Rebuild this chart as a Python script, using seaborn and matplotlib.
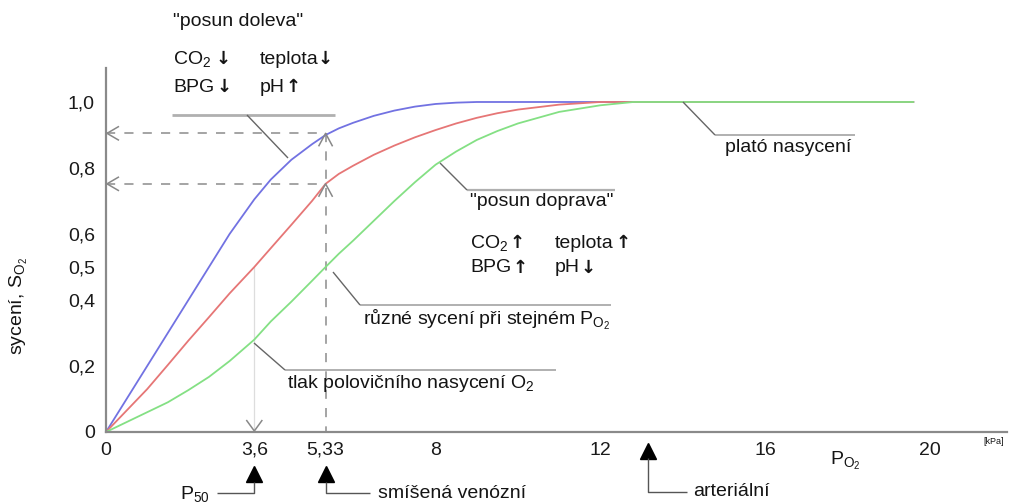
import numpy as np
import pandas as pd
import matplotlib
matplotlib.use("Agg")
import matplotlib.pyplot as plt
import seaborn as sns
from matplotlib.lines import Line2D
from matplotlib.transforms import Affine2D

# ---------------- data ----------------
p_kpa = [0, 0.5, 1, 1.5, 2, 2.5, 3, 3.6, 4, 4.5, 5, 5.33, 5.65, 6, 6.5, 7, 7.5,
         8, 8.5, 9, 9.5, 10, 11, 12, 12.8, 13, 14, 16, 18, 19.6]
sat_left = [0, 0.10, 0.20, 0.30, 0.40, 0.50, 0.60, 0.705, 0.765, 0.825, 0.872, 0.90,
            0.92, 0.937, 0.958, 0.974, 0.986, 0.994, 0.998, 1.0, 1.0, 1.0, 1.0, 1.0,
            1.0, 1.0, 1.0, 1.0, 1.0, 1.0]
sat_normal = [0, 0.065, 0.13, 0.203, 0.277, 0.348, 0.42, 0.50, 0.557, 0.628, 0.70, 0.752,
              0.782, 0.807, 0.84, 0.868, 0.893, 0.915, 0.935, 0.952, 0.966, 0.977, 0.992,
              1.0, 1.0, 1.0, 1.0, 1.0, 1.0, 1.0]
sat_right = [0, 0.03, 0.06, 0.09, 0.127, 0.167, 0.215, 0.28, 0.335, 0.395, 0.458, 0.50,
             0.54, 0.58, 0.64, 0.70, 0.757, 0.81, 0.85, 0.885, 0.912, 0.935, 0.97, 0.99,
             1.0, 1.0, 1.0, 1.0, 1.0, 1.0]
curve_names = ["doleva", "normal", "doprava"]
curve_colors = ["#7272e2", "#e67676", "#84e084"]

y_ticks = [0, 0.2, 0.4, 0.5, 0.6, 0.8, 1.0]
y_tick_labels = ["0", "0,2", "0,4", "0,5", "0,6", "0,8", "1,0"]
x_ticks = [0, 3.6, 5.33, 8, 12, 16, 20]
x_tick_labels = ["0", "3,6", "5,33", "8", "12", "16", "20"]
x_inner_ticks = [8, 12, 16, 20]

p50 = 3.6
p_venous = 5.33
p_arterial = 13.15
s_left_venous = 0.905
s_norm_venous = 0.752

# ---------------- style ----------------
sns.set_theme(style="white")
plt.rcParams["font.family"] = ["Liberation Sans", "DejaVu Sans"]
plt.rcParams["mathtext.fontset"] = "custom"
plt.rcParams["mathtext.rm"] = "Liberation Sans"
plt.rcParams["mathtext.it"] = "Liberation Sans"
plt.rcParams["mathtext.default"] = "regular"

W, H = 1017, 503
FS = 14
fig = plt.figure(figsize=(W / 100, H / 100), dpi=100)
fig.patch.set_facecolor("white")
ax = fig.add_axes([106 / W, 71 / H, 901 / W, 364 / H])
ax.set_facecolor("white")

df = pd.concat([
    pd.DataFrame({"p": p_kpa, "s": vals, "curve": name})
    for name, vals in zip(curve_names, [sat_left, sat_normal, sat_right])
])
sns.lineplot(data=df, x="p", y="s", hue="curve", hue_order=curve_names,
             palette=curve_colors, linewidth=1.3, legend=False, ax=ax,
             sort=False, estimator=None)
for ln in ax.get_lines():
    ln.set_solid_joinstyle("round")

ax.set_xlim(0, 21.87)
ax.set_ylim(0, 1.103)
ax.set_xlabel("")
ax.set_ylabel("")
for sp in ["top", "right"]:
    ax.spines[sp].set_visible(False)
for sp in ["left", "bottom"]:
    ax.spines[sp].set_color("#8a8a8a")
    ax.spines[sp].set_linewidth(1.6)

ax.set_yticks(y_ticks)
ax.set_yticklabels(y_tick_labels, fontsize=FS, color="#1a1a1a")
ax.tick_params(axis="y", direction="in", length=11, width=1.3, color="#9a9a9a", pad=8)
ax.yaxis.get_major_ticks()[3].tick1line.set_visible(False)
ax.yaxis.get_major_ticks()[0].tick1line.set_visible(False)

ax.set_xticks(x_ticks)
ax.set_xticklabels(x_tick_labels, fontsize=FS, color="#1a1a1a")
ax.tick_params(axis="x", which="major", length=0, pad=7)
ax.set_xticks(x_inner_ticks, minor=True)
ax.tick_params(axis="x", which="minor", direction="in", length=14, width=1.2, color="#9a9a9a")

# dashed reference lines
dash_kw = dict(color="#8c8c8c", lw=1.1, dashes=(6, 6), zorder=1)
ax.plot([0, p_venous], [s_left_venous, s_left_venous], **dash_kw)
ax.plot([0, p_venous], [s_norm_venous, s_norm_venous], **dash_kw)
ax.plot([p_venous, p_venous], [s_left_venous, 0], **dash_kw)
ax.plot([p50, p50], [0.5, 0], color="#dddddd", lw=0.9, zorder=1)

# pixel transform for annotation elements (origin top-left)
pix = Affine2D().scale(1 / W, -1 / H).translate(0, 1) + fig.transFigure


def to_pix(x, y):
    dx, dy = ax.transData.transform((x, y))
    return dx, H - dy


def pline(xs, ys, color="#666666", lw=1.0):
    fig.add_artist(Line2D(xs, ys, transform=pix, color=color, lw=lw,
                          solid_capstyle="butt"))


def ptext(x, y, s, size=FS, ha="left", va="center", **kw):
    fig.text(x, y, s, transform=pix, fontsize=size, ha=ha, va=va,
             color="#141414", **kw)


def parrow(x, y, s):
    fig.text(x, y, s, transform=pix, fontsize=13, ha="center", va="center",
             color="#141414", family="DejaVu Sans", fontweight="bold")


# open chevron arrowheads
chev = "#888888"
for s in [s_left_venous, s_norm_venous]:
    cx, cy = to_pix(0, s)
    pline([cx + 13, cx + 1, cx + 13], [cy - 7, cy, cy + 7], chev, 1.1)
    vx, vy = to_pix(p_venous, s)
    pline([vx - 7, vx, vx + 7], [vy + 13, vy, vy + 13], chev, 1.1)
bx, by = to_pix(p50, 0)
pline([bx - 8, bx, bx + 8], [by - 12, by - 1, by - 12], chev, 1.1)

# "posun doleva" block
ptext(173, 21, '"posun doleva"')
ptext(173, 59, "CO$_2$")
parrow(223, 59, "↓")
ptext(260, 59, "teplota")
parrow(325, 59, "↓")
ptext(173, 87, "BPG")
parrow(224, 87, "↓")
ptext(260, 87, "pH")
parrow(293, 87, "↑")
pline([172, 335], [115, 115], "#b0b0b0", 2.0)
pline([247, 288], [115, 158])

# "posun doprava" block
pline([467, 615], [190, 190], "#b0b0b0", 1.6)
pline([440, 467], [163, 190])
ptext(470, 201, '"posun doprava"')
ptext(470, 243, "CO$_2$")
parrow(517, 243, "↑")
ptext(555, 243, "teplota")
parrow(623, 243, "↑")
ptext(470, 268, "BPG")
parrow(520, 268, "↑")
ptext(555, 268, "pH")
parrow(588, 268, "↓")

# "různé sycení"
pline([360, 611], [305, 305], "#b0b0b0", 1.4)
pline([333, 360], [272, 305])
ptext(363, 320, "různé sycení při stejném P$_{O_2}$")

# "tlak polovičního nasycení"
pline([285, 556], [370, 370], "#b0b0b0", 1.4)
pline([254, 285], [343, 370])
ptext(287, 384, "tlak polovičního nasycení O$_2$")

# "plató nasycení"
pline([715, 855], [135, 135], "#b0b0b0", 1.4)
pline([683, 715], [102, 135])
ptext(725, 147, "plató nasycení")

# axis titles
ptext(19, 306, "sycení, S$_{O_2}$", rotation=90, ha="center")
ptext(830, 461, "P$_{O_2}$")
ptext(983, 442, "[kPa]", size=6.5)

# bottom markers
m50x, _ = to_pix(p50, 0)
mvx, _ = to_pix(p_venous, 0)
max_, _ = to_pix(p_arterial, 0)
for (tx, ty) in [(m50x, 474), (mvx, 474), (max_, 451)]:
    fig.add_artist(Line2D([tx], [ty], transform=pix, marker="^", markersize=12,
                          color="black", linestyle="none"))
pline([217, m50x, m50x], [493, 493, 482], "#555555", 1.0)
ptext(180, 494, "P$_{50}$")
pline([mvx, mvx, 370], [482, 493, 493], "#555555", 1.0)
ptext(378, 494, "smíšená venózní")
pline([max_, max_, 687], [458, 492, 492], "#555555", 1.0)
ptext(693, 492, "arteriální")

fig.savefig("out.png", dpi=100, facecolor="white")
